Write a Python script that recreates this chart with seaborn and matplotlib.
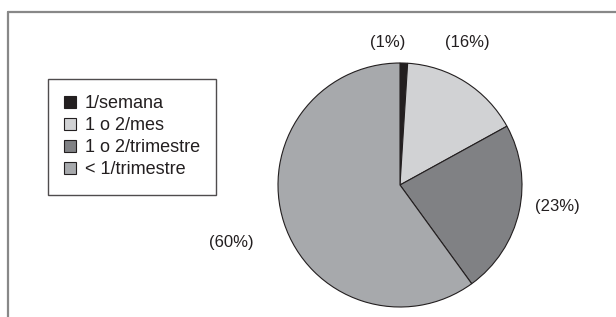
import matplotlib
matplotlib.use("Agg")
import seaborn as sns
from matplotlib import pyplot as plt
from matplotlib.patches import Patch
from matplotlib.lines import Line2D

categories = ['1/semana', '1 o 2/mes', '1 o 2/trimestre', '< 1/trimestre']
values = [1, 16, 23, 60]
pct_labels = ['(1%)', '(16%)', '(23%)', '(60%)']
colors = ['#231f20', '#d1d2d4', '#808184', '#a7a9ac']

sns.set_theme(style='white')
plt.rcParams['font.family'] = ['Liberation Sans', 'DejaVu Sans']

fig = plt.figure(figsize=(6.16, 3.17), dpi=100)
ax = fig.add_axes([278 / 616, 10 / 317, 244 / 616, 244 / 317])

wedges, _ = ax.pie(values, colors=colors, startangle=90, counterclock=False,
                   wedgeprops=dict(edgecolor='#231f20', linewidth=0.8))
ax.set_xlim(-1, 1)
ax.set_ylim(-1, 1)
ax.set_aspect('equal')
ax.axis('off')

# label spots around the pie (radius units)
label_pos = [(-0.10, 1.17), (0.55, 1.17), (1.29, -0.18), (-1.38, -0.47)]
for txt, (x, y) in zip(pct_labels, label_pos):
    ax.text(x, y, txt, ha='center', va='center', fontsize=12, color='#231f20')

handles = [Patch(facecolor=c, edgecolor='#231f20', linewidth=0.8) for c in colors]
leg = fig.legend(handles, categories, loc='upper left',
                 bbox_to_anchor=(48 / 616, 1 - 79 / 317), borderaxespad=0,
                 fontsize=13, frameon=True, fancybox=False, edgecolor='#231f20',
                 handlelength=0.65, handleheight=0.65, handletextpad=0.5,
                 labelspacing=0.28, borderpad=0.9)
leg.get_frame().set_linewidth(1.0)
for t in leg.get_texts():
    t.set_color('#231f20')

# grey frame: top and left only
fig.add_artist(Line2D([8 / 616, 1], [1 - 12 / 317, 1 - 12 / 317],
                      transform=fig.transFigure, color='#888888', lw=1.6))
fig.add_artist(Line2D([8 / 616, 8 / 616], [0, 1 - 12 / 317],
                      transform=fig.transFigure, color='#888888', lw=1.6))

fig.savefig('out.png', dpi=100)
